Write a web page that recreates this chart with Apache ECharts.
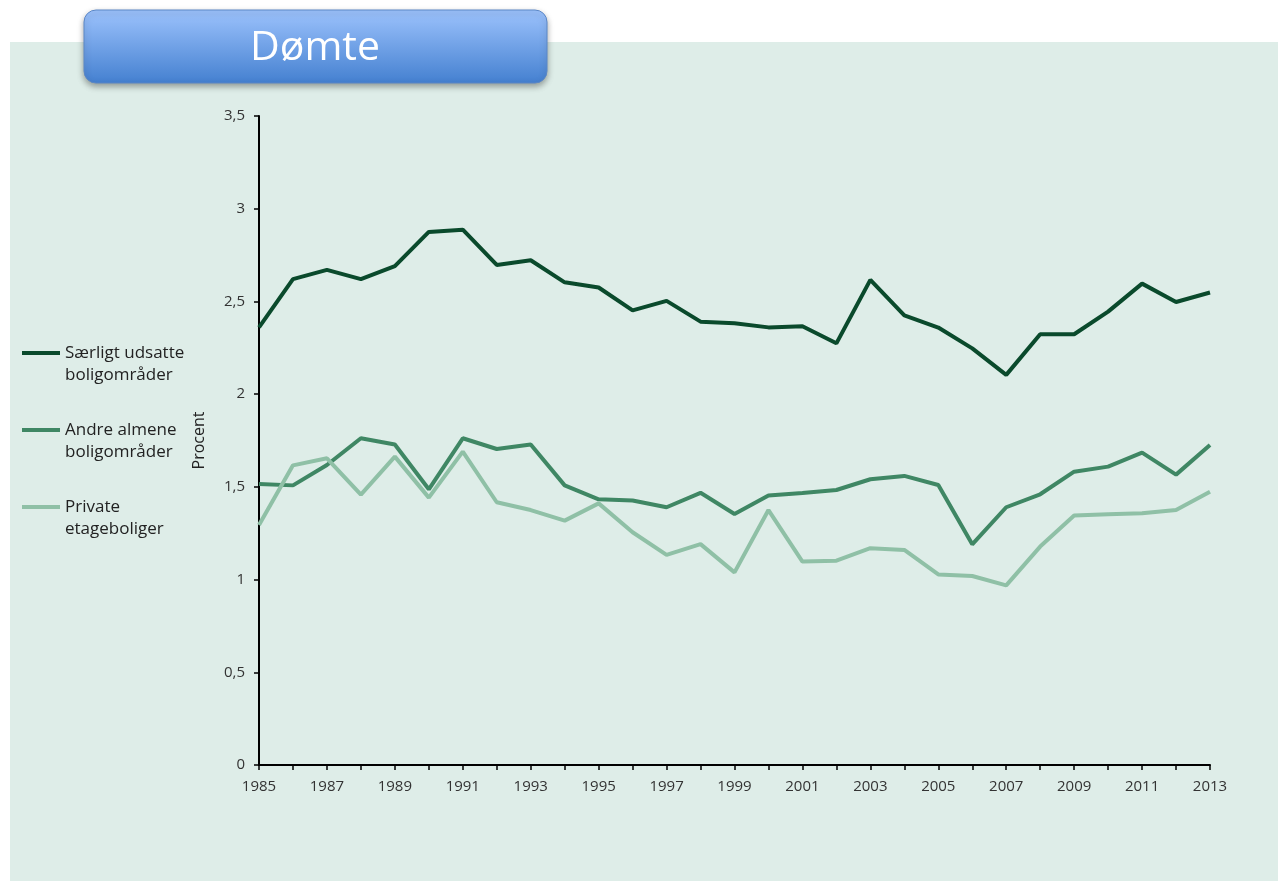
<!DOCTYPE html>
<html>
<head>
<meta charset="utf-8">
<script src="https://cdn.jsdelivr.net/npm/echarts@6/dist/echarts.min.js"></script>
<style>
  html, body { margin: 0; padding: 0; background: #fff; }
  #chart { width: 1278px; height: 881px; }
</style>
</head>
<body>
<div id="chart"></div>
<script>
const years = [];
for (let y = 1985; y <= 2013; y++) years.push(String(y));

const saerligt = [2.36, 2.62, 2.67, 2.62, 2.69, 2.875, 2.887, 2.697, 2.722, 2.603, 2.575, 2.452, 2.503, 2.391,
  2.382, 2.36, 2.366, 2.274, 2.616, 2.425, 2.359, 2.247, 2.104, 2.323, 2.323, 2.445, 2.596, 2.497, 2.548];
const andre = [1.516, 1.508, 1.618, 1.762, 1.728, 1.487, 1.762, 1.704, 1.728, 1.508, 1.433, 1.426, 1.39, 1.468,
  1.354, 1.453, 1.467, 1.483, 1.541, 1.559, 1.51, 1.19, 1.39, 1.46, 1.582, 1.609, 1.685, 1.566, 1.726];
const private_ = [1.294, 1.616, 1.654, 1.458, 1.663, 1.442, 1.69, 1.417, 1.375, 1.318, 1.411, 1.255, 1.133, 1.191,
  1.039, 1.375, 1.097, 1.102, 1.169, 1.16, 1.028, 1.019, 0.969, 1.178, 1.345, 1.352, 1.358, 1.375, 1.474];

const seriesNames = ['Særligt udsatte\nboligområder', 'Andre almene\nboligområder', 'Private\netageboliger'];
const colors = ['#0a4a2c', '#3f8764', '#8fc0a6'];

const chart = echarts.init(document.getElementById('chart'));

function line(name, data, color) {
  return {
    name: name,
    type: 'line',
    data: data,
    symbol: 'none',
    lineStyle: { color: color, width: 4 },
    itemStyle: { color: color },
    z: 3
  };
}

// legend swatch sits at the top of a 38x26 box so it lines up with the first text line
const legendIcon = 'path://M0,0L38,0L38,4L0,4Z M0,25.99L0.01,25.99L0.01,26L0,26Z';

chart.setOption({
  animation: false,
  graphic: [
    {
      type: 'rect',
      shape: { x: 10, y: 42, width: 1268, height: 839 },
      style: { fill: '#deede8' },
      z: -10,
      silent: true
    },
    {
      type: 'rect',
      shape: { x: 84, y: 10, width: 463, height: 73, r: 12 },
      style: {
        fill: new echarts.graphic.LinearGradient(0, 0, 0, 1, [
          { offset: 0, color: '#9dc3fd' },
          { offset: 1, color: '#4480d0' }
        ]),
        stroke: '#5b87c6',
        lineWidth: 1,
        shadowBlur: 6,
        shadowOffsetY: 3,
        shadowColor: 'rgba(0,0,0,0.35)'
      },
      z: 10
    },
    {
      type: 'text',
      x: 315,
      y: 48,
      style: {
        text: 'Dømte',
        fill: '#ffffff',
        font: '41px "Open Sans", sans-serif',
        align: 'center',
        verticalAlign: 'middle'
      },
      z: 11
    }
  ],
  legend: {
    orient: 'vertical',
    left: 17,
    top: 337,
    itemWidth: 38,
    itemHeight: 26,
    itemGap: 33,
    icon: legendIcon,
    data: seriesNames,
    textStyle: {
      fontFamily: '"Open Sans", sans-serif',
      fontSize: 17,
      color: '#222',
      lineHeight: 22
    }
  },
  grid: { left: 259, right: 68, top: 116, bottom: 116 },
  xAxis: {
    type: 'category',
    data: years,
    boundaryGap: false,
    axisLine: { lineStyle: { color: '#000', width: 2 } },
    axisTick: { show: true, interval: 0, length: 5, lineStyle: { color: '#000', width: 1.5 } },
    axisLabel: {
      interval: 1,
      margin: 14,
      color: '#333',
      fontSize: 15,
      fontFamily: '"Open Sans", sans-serif'
    },
    splitLine: { show: false }
  },
  yAxis: {
    type: 'value',
    min: 0,
    max: 3.5,
    interval: 0.5,
    name: 'Procent',
    nameLocation: 'middle',
    nameGap: 52,
    nameTextStyle: {
      color: '#222',
      fontSize: 16,
      fontFamily: '"Open Sans", sans-serif'
    },
    axisLine: { show: true, lineStyle: { color: '#000', width: 2 } },
    axisTick: { show: true, length: 5, lineStyle: { color: '#000', width: 1.5 } },
    axisLabel: {
      margin: 14,
      color: '#333',
      fontSize: 15,
      fontFamily: '"Open Sans", sans-serif',
      formatter: v => String(v).replace('.', ',')
    },
    splitLine: { show: false }
  },
  series: [
    line(seriesNames[0], saerligt, colors[0]),
    line(seriesNames[1], andre, colors[1]),
    line(seriesNames[2], private_, colors[2])
  ]
});
</script>
</body>
</html>
